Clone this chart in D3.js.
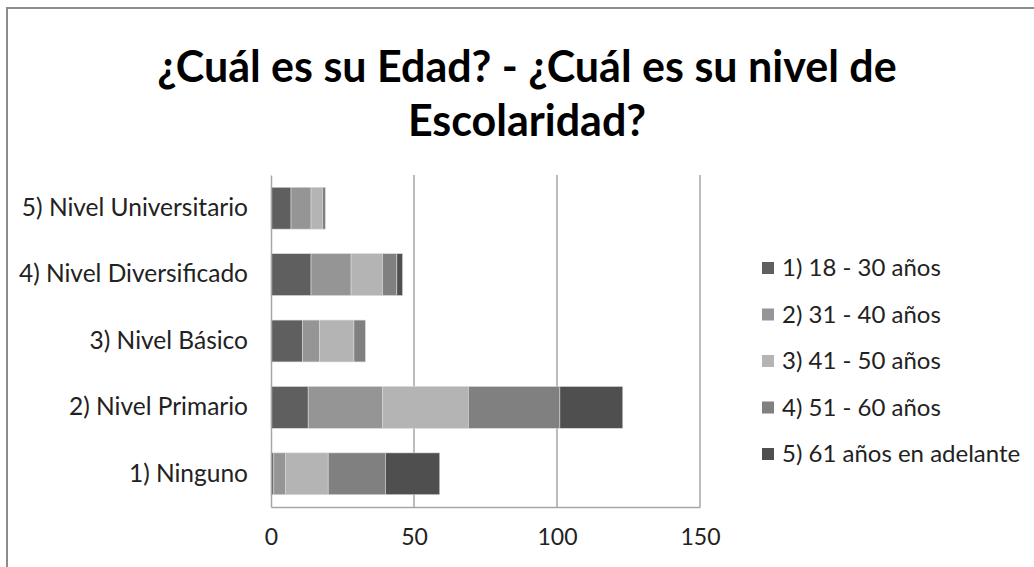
<!DOCTYPE html>
<html>
<head>
<meta charset="utf-8">
<script src="https://cdn.jsdelivr.net/npm/d3@7"></script>
<style>
  html, body { margin: 0; padding: 0; background: #fff; }
  svg { display: block; font-family: Lato, 'Open Sans', sans-serif; }
</style>
</head>
<body>
<div id="myPlot"></div>
<script>
// categories, bottom to top as drawn
const categories = ['1) Ninguno', '2) Nivel Primario', '3) Nivel Básico', '4) Nivel Diversificado', '5) Nivel Universitario'];
const seriesNames = ['1) 18 - 30 años', '2) 31 - 40 años', '3) 41 - 50 años', '4) 51 - 60 años', '5) 61 años en adelante'];
// one array per age group, in category order
const edad18a30 = [1, 13, 11, 14, 7];
const edad31a40 = [4, 26, 6, 14, 7];
const edad41a50 = [15, 30, 12, 11, 4];
const edad51a60 = [20, 32, 4, 5, 1];
const edad61mas = [19, 22, 0, 2, 0];
const xTicks = [0, 50, 100, 150];
const titleLines = ['¿Cuál es su Edad? - ¿Cuál es su nivel de', 'Escolaridad?'];

const colors = ['#5f5f5f', '#959595', '#b4b4b4', '#808080', '#4f4f4f'];
const seriesValues = [edad18a30, edad31a40, edad41a50, edad51a60, edad61mas];

const width = 1034, height = 567;
const margin = {top: 175, right: 334, bottom: 60, left: 271};
const plotW = width - margin.left - margin.right;
const plotH = height - margin.top - margin.bottom;

const svg = d3.select('#myPlot')
  .append('svg')
    .attr('width', width)
    .attr('height', height);

// outer chart frame (right and bottom edges fall outside the picture)
svg.append('rect')
  .attr('x', 7).attr('y', 8)
  .attr('width', 1040).attr('height', 580)
  .attr('fill', 'none')
  .attr('stroke', '#8c8c8c')
  .attr('stroke-width', 2);

// title
svg.append('text')
  .attr('x', 527)
  .attr('y', 82)
  .attr('text-anchor', 'middle')
  .style('font-size', '43px')
  .style('font-weight', 'bold')
  .attr('fill', '#000')
  .selectAll('tspan')
  .data(titleLines)
  .enter()
  .append('tspan')
    .attr('x', 527)
    .attr('dy', (d, i) => i === 0 ? 0 : 54)
    .text(d => d);

const g = svg.append('g')
  .attr('transform', 'translate(' + margin.left + ',' + margin.top + ')');

const x = d3.scaleLinear()
  .domain([0, 150])
  .range([0, plotW]);

const y = d3.scaleBand()
  .domain(categories.slice().reverse())
  .range([0, plotH])
  .paddingInner(0.37)
  .paddingOuter(0.185);

// vertical gridlines
g.selectAll('line.grid')
  .data(xTicks.slice(1))
  .enter()
  .append('line')
    .attr('class', 'grid')
    .attr('x1', d => x(d)).attr('x2', d => x(d))
    .attr('y1', 0).attr('y2', plotH)
    .attr('stroke', '#a6a6a6')
    .attr('stroke-width', 1.5);

// stacked bars
const table = categories.map((c, i) => {
  const row = {cat: c};
  seriesNames.forEach((s, j) => { row[s] = seriesValues[j][i]; });
  return row;
});
const stacked = d3.stack().keys(seriesNames)(table);

g.selectAll('g.series')
  .data(stacked)
  .enter()
  .append('g')
    .attr('class', 'series')
    .attr('fill', (d, i) => colors[i])
  .selectAll('rect')
  .data(d => d)
  .enter()
  .append('rect')
    .attr('x', d => x(d[0]))
    .attr('y', d => y(d.data.cat))
    .attr('width', d => x(d[1]) - x(d[0]))
    .attr('height', y.bandwidth())
    .attr('stroke', '#d9d9d9')
    .attr('stroke-width', 0.6);

// x axis
const xAxis = g.append('g')
  .attr('transform', 'translate(0,' + plotH + ')')
  .call(d3.axisBottom(x).tickValues(xTicks).tickSize(0).tickPadding(22));
xAxis.select('.domain').attr('stroke', '#a6a6a6').attr('stroke-width', 1.5);
xAxis.selectAll('text')
  .style('font-size', '23px')
  .style('font-family', 'Lato, sans-serif')
  .attr('fill', '#222');

// y axis
const yAxis = g.append('g')
  .call(d3.axisLeft(y).tickSize(0).tickPadding(23));
yAxis.select('.domain').attr('stroke', '#a6a6a6').attr('stroke-width', 1.5);
yAxis.selectAll('text')
  .style('font-size', '24.5px')
  .style('font-family', 'Lato, sans-serif')
  .attr('fill', '#222');

// legend
const legend = svg.append('g')
  .attr('transform', 'translate(762,268)');
const items = legend.selectAll('g')
  .data(seriesNames)
  .enter()
  .append('g')
    .attr('transform', (d, i) => 'translate(0,' + i * 46.5 + ')');
items.append('rect')
  .attr('x', 0).attr('y', -6)
  .attr('width', 12).attr('height', 12)
  .attr('fill', (d, i) => colors[i]);
items.append('text')
  .attr('x', 20)
  .attr('dy', '0.35em')
  .style('font-size', '24px')
  .attr('fill', '#222')
  .text(d => d);
</script>
</body>
</html>
